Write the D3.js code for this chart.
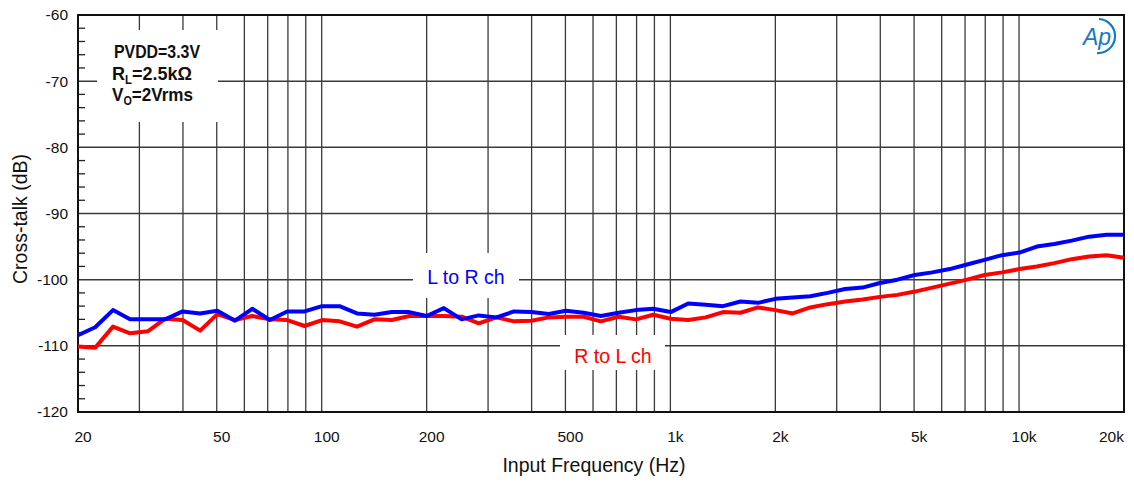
<!DOCTYPE html>
<html>
<head>
<meta charset="utf-8">
<script src="https://cdn.jsdelivr.net/npm/d3@7"></script>
<style>
  html, body { margin: 0; padding: 0; background: #fff; }
  svg { display: block; }
  text { font-family: "Liberation Sans", Arial, sans-serif; }
</style>
</head>
<body>
<div id="chart"></div>
<script>
// Measurement points (Hz), 20 per decade
const frequencies = [
  20, 22.4, 25.2, 28.2, 31.7, 35.6, 39.9, 44.8, 50.2, 56.4,
  63.2, 71.0, 79.6, 89.3, 100.2, 112.5, 126.2, 141.6, 158.9, 178.3,
  200, 224, 252, 282, 317, 356, 399, 448, 502, 564,
  632, 710, 796, 893, 1002, 1125, 1262, 1416, 1589, 1783,
  2000, 2244, 2518, 2825, 3170, 3557, 3991, 4477, 5024, 5637,
  6325, 7096, 7962, 8934, 10024, 11247, 12619, 14159, 15887, 17825, 20000
];

// Cross-talk, L to R channel (dB)
const lToR = [
  -108.4, -107.2, -104.6, -106.0, -106.0, -106.0, -104.8, -105.1, -104.7, -106.2,
  -104.4, -106.1, -104.8, -104.8, -104.0, -104.0, -105.1, -105.3, -104.9, -104.9,
  -105.5, -104.3, -106.0, -105.4, -105.7, -104.8, -104.9, -105.2, -104.7, -105.0,
  -105.5, -105.0, -104.6, -104.4, -104.9, -103.6, -103.8, -104.0, -103.3, -103.5,
  -102.9, -102.7, -102.5, -102.0, -101.4, -101.2, -100.5, -100.0, -99.3, -98.9,
  -98.4, -97.7, -97.0, -96.3, -95.9, -95.0, -94.6, -94.1, -93.5, -93.2, -93.2
];

// Cross-talk, R to L channel (dB)
const rToL = [
  -110.1, -110.3, -107.1, -108.1, -107.8, -105.9, -106.1, -107.7, -105.2, -106.1,
  -105.5, -106.0, -106.1, -107.0, -106.1, -106.3, -107.1, -106.0, -106.1, -105.5,
  -105.5, -105.5, -105.6, -106.6, -105.7, -106.3, -106.2, -105.7, -105.6, -105.6,
  -106.3, -105.6, -106.0, -105.3, -105.9, -106.1, -105.7, -104.9, -105.0, -104.2,
  -104.6, -105.1, -104.2, -103.7, -103.3, -103.0, -102.6, -102.3, -101.8, -101.2,
  -100.6, -100.0, -99.3, -98.9, -98.4, -98.0, -97.5, -96.9, -96.5, -96.3, -96.7
];

const xTickValues = [20, 50, 100, 200, 500, 1000, 2000, 5000, 10000, 20000];
const xTickLabels = ["20", "50", "100", "200", "500", "1k", "2k", "5k", "10k", "20k"];
const yTickValues = [-120, -110, -100, -90, -80, -70, -60];
const conditions = ["PVDD=3.3V", "R|L|=2.5kΩ", "V|O|=2Vrms"];

const W = 1134, H = 482;
const plot = { left: 78, right: 1124, top: 15, bottom: 412 };

const svg = d3.select("#chart").append("svg")
  .attr("width", W).attr("height", H);
svg.append("rect").attr("width", W).attr("height", H).attr("fill", "#fff");

const x = d3.scaleLog().domain([20, 20000]).range([plot.left, plot.right]);
const y = d3.scaleLinear().domain([-120, -60]).range([plot.bottom, plot.top]);

// Grid lines
const grid = svg.append("g");
grid.selectAll("line.v")
  .data(x.ticks().filter(d => d > 20 && d < 20000))
  .join("line")
  .attr("x1", d => x(d)).attr("x2", d => x(d))
  .attr("y1", plot.top).attr("y2", plot.bottom)
  .attr("stroke", "#3a3a3a").attr("stroke-width", 1.3);
grid.selectAll("line.h")
  .data(yTickValues.filter(d => d > -120 && d < -60))
  .join("line")
  .attr("x1", plot.left).attr("x2", plot.right)
  .attr("y1", d => y(d)).attr("y2", d => y(d))
  .attr("stroke", "#3a3a3a").attr("stroke-width", 1.5);

// Minor ticks on the left axis, every 2 dB
grid.selectAll("line.minor")
  .data(d3.range(-118, -60, 2).filter(d => d % 10 !== 0))
  .join("line")
  .attr("x1", plot.left).attr("x2", plot.left + 7)
  .attr("y1", d => y(d)).attr("y2", d => y(d))
  .attr("stroke", "#222").attr("stroke-width", 1.3);

// White backgrounds behind the annotations
const boxes = [
  { x0: 97, x1: 218, y0: 30, y1: 122 },
  { x0: 413, x1: 519, y0: 253, y1: 298 },
  { x0: 560, x1: 665, y0: 335, y1: 370 }
];
svg.append("g").selectAll("rect").data(boxes).join("rect")
  .attr("x", d => d.x0).attr("y", d => d.y0)
  .attr("width", d => d.x1 - d.x0).attr("height", d => d.y1 - d.y0)
  .attr("fill", "#fff");

// Frame
svg.append("rect")
  .attr("x", plot.left).attr("y", plot.top)
  .attr("width", plot.right - plot.left).attr("height", plot.bottom - plot.top)
  .attr("fill", "none").attr("stroke", "#111").attr("stroke-width", 2);

// Curves
const line = d3.line()
  .x(d => x(d[0]))
  .y(d => y(d[1]));
svg.append("path")
  .datum(frequencies.map((f, i) => [f, rToL[i]]))
  .attr("d", line).attr("fill", "none")
  .attr("stroke", "#ff0000").attr("stroke-width", 4).attr("stroke-linejoin", "round");
svg.append("path")
  .datum(frequencies.map((f, i) => [f, lToR[i]]))
  .attr("d", line).attr("fill", "none")
  .attr("stroke", "#0000ff").attr("stroke-width", 4).attr("stroke-linejoin", "round");

// Axis tick labels
svg.append("g").selectAll("text").data(yTickValues).join("text")
  .attr("x", 68).attr("y", d => y(d)).attr("dy", "0.35em")
  .attr("text-anchor", "end").attr("font-size", 15.5).attr("fill", "#111")
  .text(d => d);

svg.append("g").selectAll("text").data(xTickValues).join("text")
  .attr("x", (d, i) => i === xTickValues.length - 1 ? x(d) : x(d) + 5)
  .attr("y", 442)
  .attr("text-anchor", (d, i) => i === xTickValues.length - 1 ? "end" : "middle")
  .attr("font-size", 15.5).attr("fill", "#111")
  .text((d, i) => xTickLabels[i]);

// Axis titles
svg.append("text")
  .attr("x", 594).attr("y", 472)
  .attr("text-anchor", "middle").attr("font-size", 19.5).attr("fill", "#111")
  .text("Input Frequency (Hz)");
svg.append("text")
  .attr("transform", "translate(27,219) rotate(-90)")
  .attr("text-anchor", "middle").attr("font-size", 19.5).attr("fill", "#111")
  .text("Cross-talk (dB)");

// Test conditions, with subscripts marked by |...|; condensed bold type
const condWidths = [86, 80, 81];
const condX = [114, 112, 112];
const cond = svg.append("g").attr("font-weight", "bold").attr("font-size", 19).attr("fill", "#111");
conditions.forEach((s, i) => {
  const parts = s.split("|");
  const t = cond.append("text")
    .attr("x", condX[i]).attr("y", 58 + i * 21.5)
    .attr("textLength", condWidths[i])
    .attr("lengthAdjust", "spacingAndGlyphs");
  parts.forEach((p, j) => {
    const ts = t.append("tspan").text(p);
    if (j === 1) ts.attr("font-size", 12).attr("dy", 4);
    if (j === 2) ts.attr("dy", -4);
  });
});

// Series labels
svg.append("text")
  .attr("x", 466).attr("y", 284)
  .attr("text-anchor", "middle").attr("font-size", 19.5).attr("fill", "#0000ff")
  .text("L to R ch");
svg.append("text")
  .attr("x", 613).attr("y", 363)
  .attr("text-anchor", "middle").attr("font-size", 19.5).attr("fill", "#ff0000")
  .text("R to L ch");

// Instrument mark in the top-right corner
const logo = svg.append("g").attr("fill", "#1a78bd").attr("stroke", "#1a78bd");
logo.append("text")
  .attr("x", 1083).attr("y", 45)
  .attr("font-size", 23).attr("font-style", "italic")
  .attr("stroke", "none")
  .text("Ap");
logo.append("path")
  .attr("d", "M1099,19 A17,17 0 0 1 1097,53")
  .attr("fill", "none").attr("stroke-width", 2.2);
</script>
</body>
</html>
